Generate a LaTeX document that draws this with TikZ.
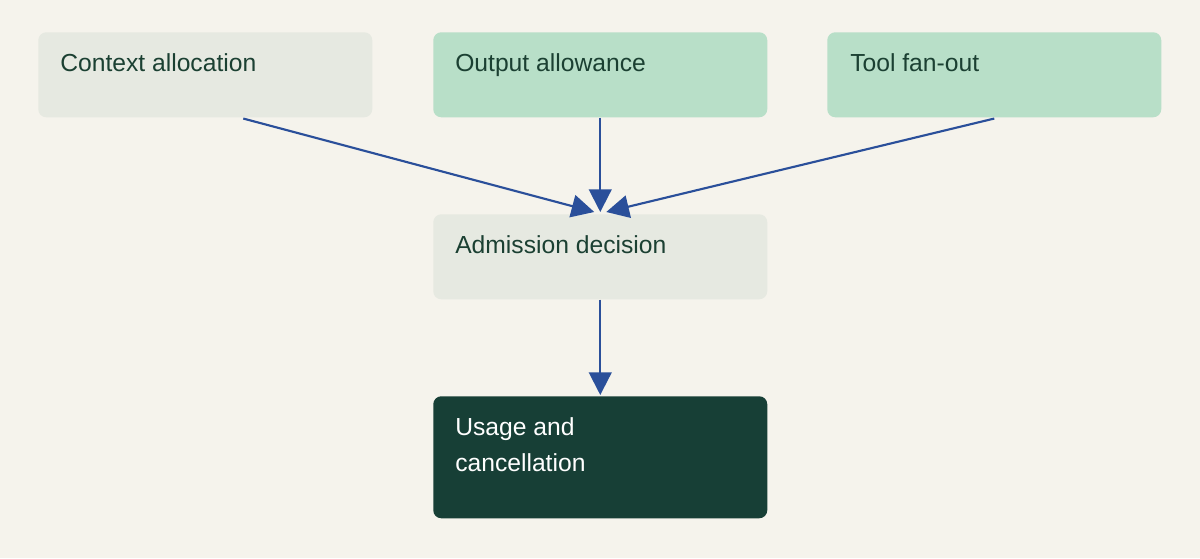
\documentclass[tikz,border=0pt]{standalone}
\usepackage{fontspec}
\setmainfont{Liberation Sans}
\usetikzlibrary{arrows.meta,calc}
\definecolor{bg}{HTML}{F5F3EC}
\definecolor{gry}{HTML}{E6E9E1}
\definecolor{grn}{HTML}{B8DFC8}
\definecolor{drk}{HTML}{173F36}
\definecolor{txt}{HTML}{1B4032}
\definecolor{arr}{HTML}{2A4F9A}
\begin{document}
\begin{tikzpicture}[x=0.75pt,y=-0.75pt,
  box/.style={rectangle,rounded corners=6pt,draw=none,anchor=north west,inner sep=0pt,minimum width=250.5pt},
  lbl/.style={anchor=north west,inner sep=0pt,font=\fontsize{18.5pt}{27pt}\selectfont,align=left},
  con/.style={draw=arr,line width=1.6pt,-{Triangle[length=17pt,width=17pt]}}]
\fill[bg] (0,0) rectangle (1200,558);
\node[box,fill=gry,minimum height=63.75pt] (ctx) at (38,32) {};
\node[box,fill=grn,minimum height=63.75pt] (out) at (433,32) {};
\node[box,fill=grn,minimum height=63.75pt] (tool) at (827,32) {};
\node[box,fill=gry,minimum height=63.75pt] (adm) at (433,214) {};
\node[box,fill=drk,minimum height=91.5pt] (use) at (433,396) {};
\node[lbl,text=txt] (tctx) at (60,53) {Context allocation};
\node[lbl,text=txt] (tout) at (455,53) {Output allowance};
\node[lbl,text=txt] (ttool) at (850,53) {Tool fan-out};
\node[lbl,text=txt] (tadm) at (455,235) {Admission decision};
\node[lbl,text=white] (tuse) at (455,417) {Usage and\\cancellation};
\coordinate (a1) at ($(ctx.south)+(38,1)$);
\coordinate (a1e) at ($(adm.north)+(-6,-2)$);
\coordinate (a3) at ($(tool.south)+(0,1)$);
\coordinate (a3e) at ($(adm.north)+(6,-2)$);
\draw[con] (a1) -- (a1e);
\draw[con] (out.south) -- ($(adm.north)+(0,-2)$);
\draw[con] (a3) -- (a3e);
\draw[con] (adm.south) -- ($(use.north)+(0,-1)$);
\end{tikzpicture}
\end{document}
